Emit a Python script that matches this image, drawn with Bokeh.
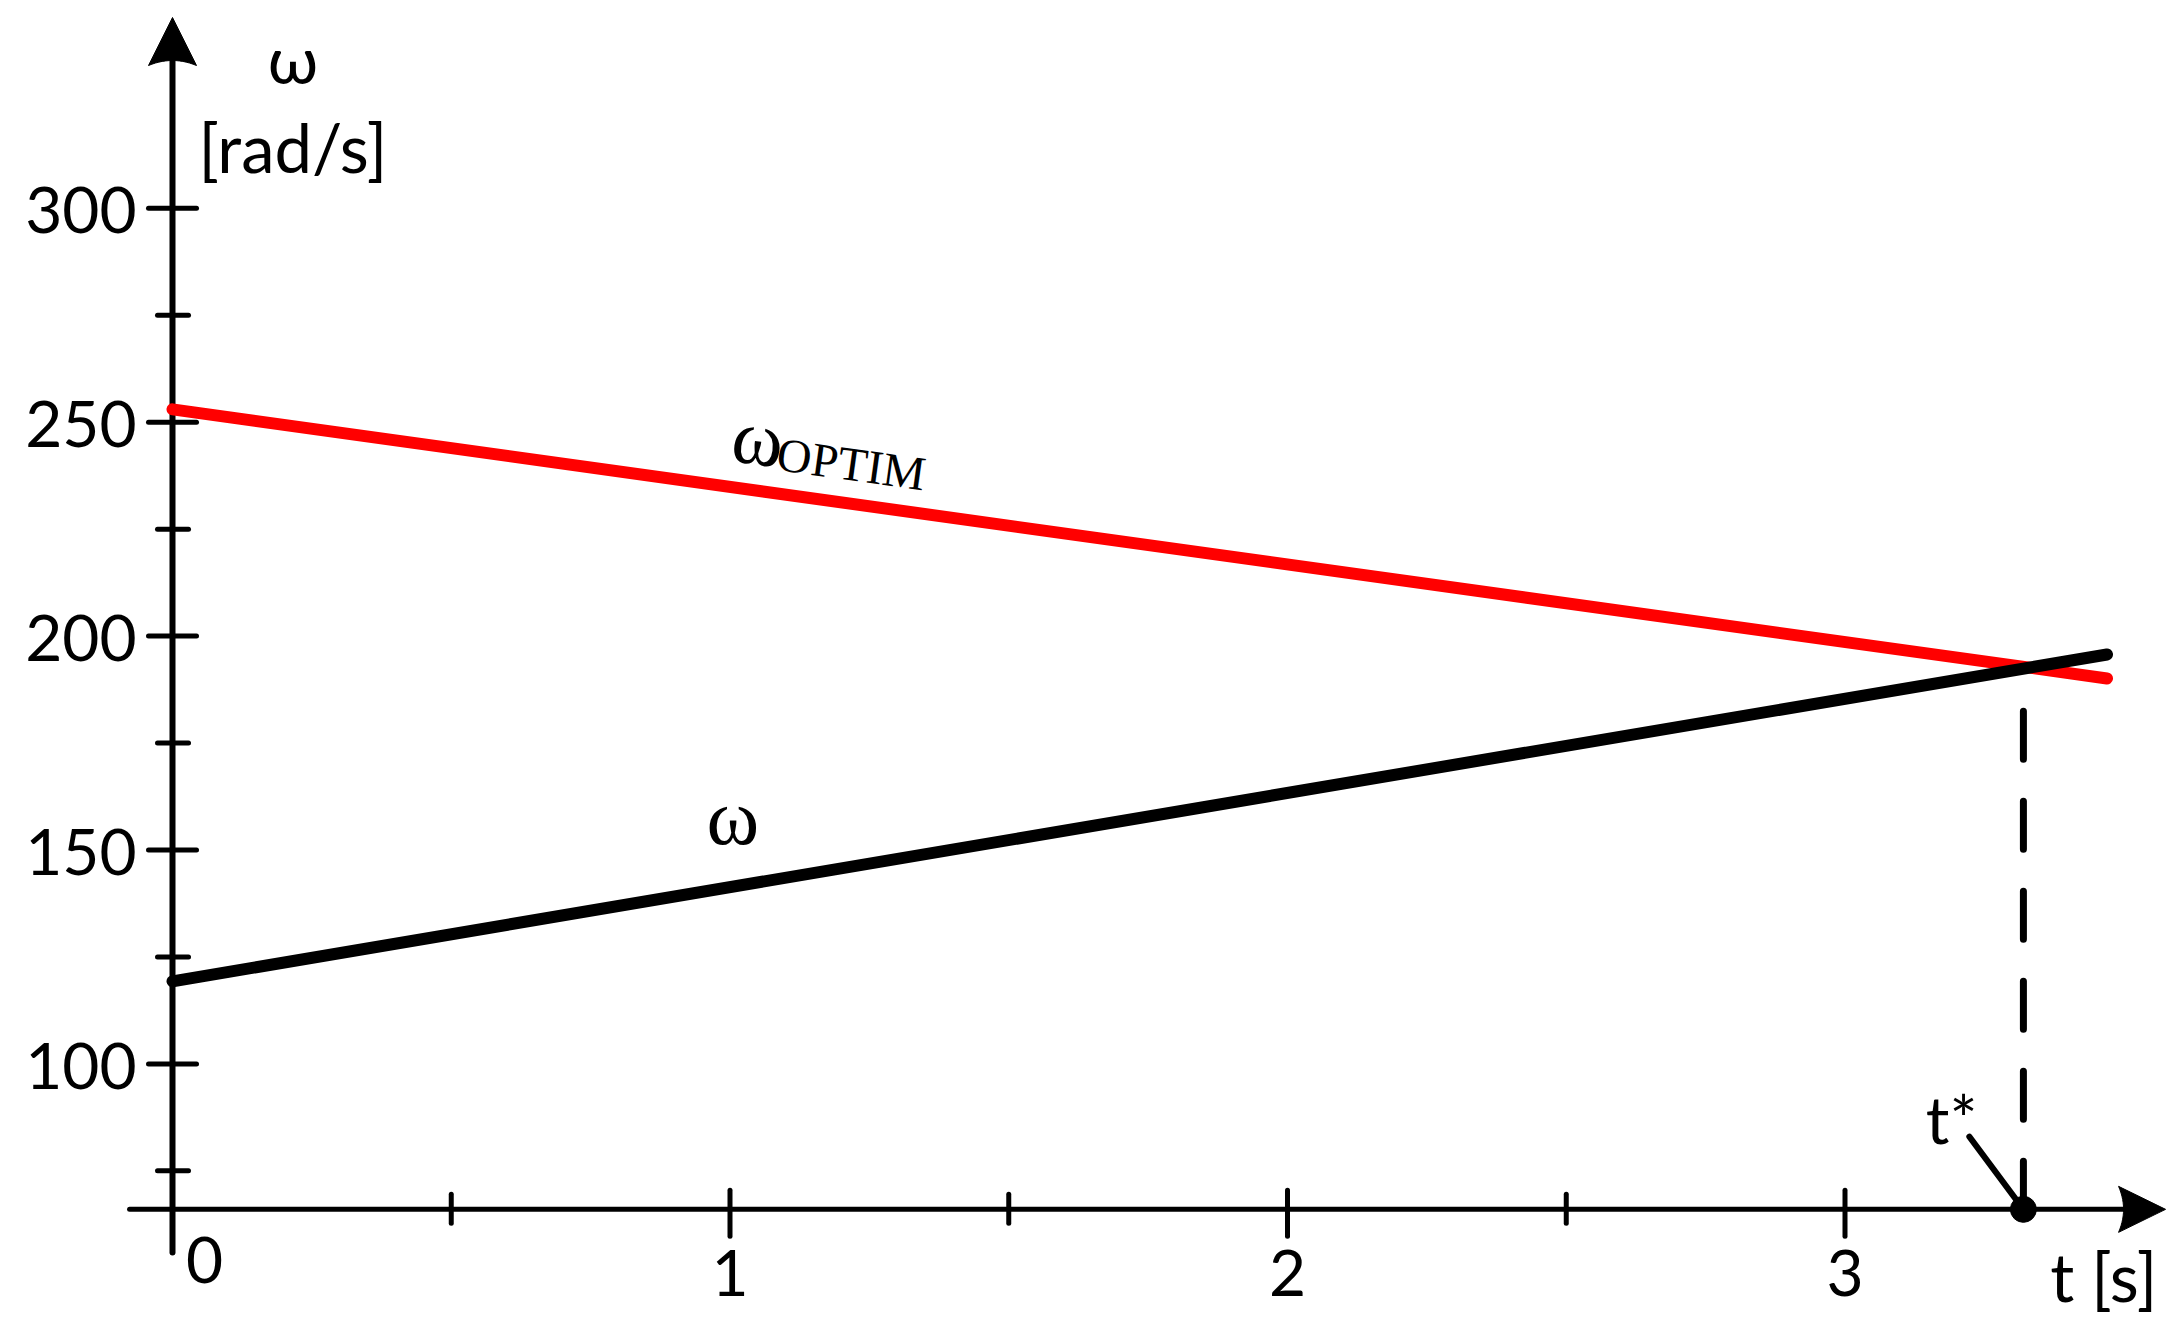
import numpy as np
from bokeh.plotting import figure
from bokeh.models import Range1d
from bokeh.core.properties import value
from bokeh.embed import file_html
from bokeh.resources import INLINE

# ---------------- data ----------------
t_line = [0.0, 3.47]               # time span of both curves [s]
omega = [119.3, 195.7]             # actual speed (black)
omega_optim = [253.0, 190.1]       # optimal speed (red)
t_star = 3.32                      # crossing time
omega_star = 192.8                 # crossing speed

y_major = [100, 150, 200, 250, 300]
y_minor = [75, 125, 175, 225, 275]
x_major = [1, 2, 3]
x_minor = [0.5, 1.5, 2.5]

# axis extents (data units)
X_AXIS_LEVEL = 66.0
AXIS_Y_TOP = 344.6
AXIS_Y_BOTTOM = 55.9
AXIS_X_LEFT = -0.077
AXIS_X_RIGHT = 3.575

# ---------------- layout ----------------
W, H = 2174, 1326
PX_PER_T = 557.5
PX_PER_W = 4.278
PT = 1.0 / PX_PER_T      # t units per pixel
PW = 1.0 / PX_PER_W      # omega units per pixel
X0 = -172.0 * PT
X1 = X0 + W * PT
Y1 = 200.0 + 635.6 * PW
Y0 = Y1 - H * PW

p = figure(width=W, height=H, x_range=Range1d(X0, X1), y_range=Range1d(Y0, Y1),
           output_backend="svg", toolbar_location=None,
           x_axis_type=None, y_axis_type=None, min_border=0)
p.outline_line_color = None
p.background_fill_color = "white"
p.border_fill_color = "white"
p.grid.visible = False

BLACK = "#000000"
SANS = value("Lato")
SERIF = value("Liberation Serif")

# ---------------- axes ----------------
p.line([0, 0], [AXIS_Y_BOTTOM, AXIS_Y_TOP - 9 * PW], line_color=BLACK, line_width=6, line_cap="round")
p.line([AXIS_X_LEFT, AXIS_X_RIGHT - 9 * PT], [X_AXIS_LEVEL, X_AXIS_LEVEL], line_color=BLACK, line_width=5, line_cap="round")

s = np.linspace(-1, 1, 15)
# up arrow (y axis)
ux = [0.0] + list(24 * s * PT) + [0.0]
uy_px = [0.0] + list(48 - 5 * (1 - s ** 2)) + [0.0]
uy = [AXIS_Y_TOP - v * PW for v in uy_px]
p.patch([0 + v for v in ux], uy, fill_color=BLACK, line_color=BLACK, line_width=1)
# right arrow (x axis)
rx_px = [0.0] + list(-47 + 5 * (1 - s ** 2)) + [0.0]
ry_px = [0.0] + list(23 * s) + [0.0]
p.patch([AXIS_X_RIGHT + v * PT for v in rx_px], [X_AXIS_LEVEL + v * PW for v in ry_px],
        fill_color=BLACK, line_color=BLACK, line_width=1)

# y ticks
p.segment(x0=[-24 * PT] * len(y_major), y0=y_major, x1=[24 * PT] * len(y_major), y1=y_major,
          line_color=BLACK, line_width=5, line_cap="round")
p.segment(x0=[-15 * PT] * len(y_minor), y0=y_minor, x1=[16 * PT] * len(y_minor), y1=y_minor,
          line_color=BLACK, line_width=5, line_cap="round")
# x ticks
p.segment(x0=x_major, y0=[X_AXIS_LEVEL + 19 * PW] * len(x_major), x1=x_major,
          y1=[X_AXIS_LEVEL - 27 * PW] * len(x_major), line_color=BLACK, line_width=5, line_cap="round")
p.segment(x0=x_minor, y0=[X_AXIS_LEVEL + 15 * PW] * len(x_minor), x1=x_minor,
          y1=[X_AXIS_LEVEL - 14 * PW] * len(x_minor), line_color=BLACK, line_width=5, line_cap="round")

# tick labels
p.text(x=[-36 * PT] * len(y_major), y=[v - 2 * PW for v in y_major], text=[str(v) for v in y_major],
       text_align="right", text_baseline="alphabetic", text_font=SANS, text_font_size="64px",
       text_color=BLACK)
p.text(x=x_major, y=[X_AXIS_LEVEL - 64 * PW] * len(x_major), text=[str(v) for v in x_major],
       text_align="center", text_baseline="alphabetic", text_font=SANS, text_font_size="64px",
       text_color=BLACK)
p.text(x=[32 * PT], y=[X_AXIS_LEVEL - 51 * PW], text=["0"],
       text_align="center", text_baseline="alphabetic", text_font=SANS, text_font_size="64px",
       text_color=BLACK)

# axis titles
p.text(x=[0.216], y=[329.4 + 24 * PW], text=["ω"], text_align="center", text_baseline="alphabetic",
       text_font=SANS, text_font_size="66px", text_color=BLACK)
p.text(x=[0.216], y=[309.3 + 22 * PW], text=["[rad/s]"], text_align="center", text_baseline="alphabetic",
       text_font=SANS, text_font_size="67px", text_color=BLACK)
p.text(x=[3.368], y=[44.7 + 24 * PW], text=["t [s]"], text_align="left", text_baseline="alphabetic",
       text_font=SANS, text_font_size="67px", text_color=BLACK)

# ---------------- curves ----------------
p.line(t_line, omega_optim, line_color="#ff0000", line_width=12, line_cap="round")
p.line([t_star, t_star], [X_AXIS_LEVEL, omega_star], line_color=BLACK, line_width=7,
       line_dash="48 42", line_cap="round")
p.line(t_line, omega, line_color=BLACK, line_width=12, line_cap="round")

# t* marker and leader
p.line([3.223, t_star], [83.0, X_AXIS_LEVEL], line_color=BLACK, line_width=6, line_cap="round")
p.scatter([t_star], [X_AXIS_LEVEL], size=26, marker="circle", fill_color=BLACK, line_color=BLACK)
p.text(x=[3.145], y=[82.1 + 22 * PW], text=["t*"], text_align="left", text_baseline="alphabetic",
       text_font=SANS, text_font_size="66px", text_color=BLACK)

# curve labels
ang = -0.138
p.text(x=[1.005], y=[240.8 + 27 * PW], text=["ω"], angle=ang, text_align="left", text_baseline="alphabetic",
       text_font=SERIF, text_font_size="78px", text_color=BLACK)
p.text(x=[1.085], y=[236.6 + 26 * PW], text=["OPTIM"], angle=ang, text_align="left", text_baseline="alphabetic",
       text_font=SERIF, text_font_size="48px", text_color=BLACK)
p.text(x=[0.958], y=[151.5 + 27 * PW], text=["ω"], text_align="left", text_baseline="alphabetic",
       text_font=SERIF, text_font_size="80px", text_color=BLACK)

open("out.html", "w").write(file_html(p, INLINE))
